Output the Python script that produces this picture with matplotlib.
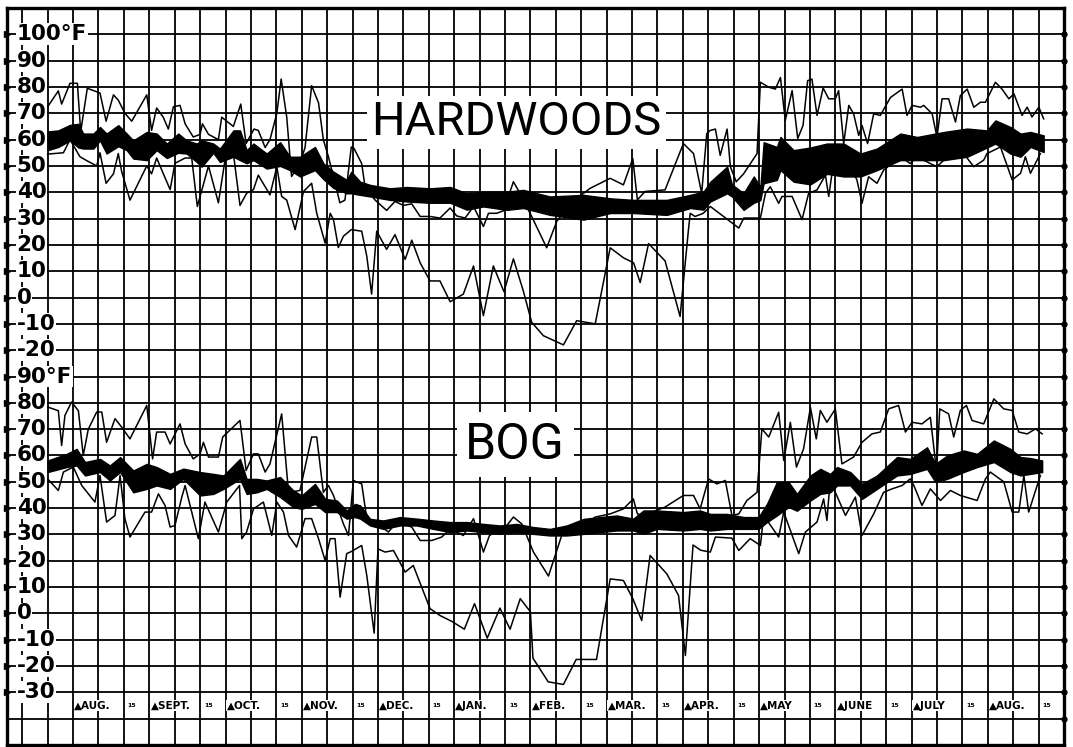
import numpy as np
import matplotlib.pyplot as plt

# time in grid columns (3 columns a month, Aug. to Aug.), values in deg F
# (time, temperature) readings for the thin max / min lines
hw_max = [(0, 72.5), (0.42, 78.5), (0.55, 73.5), (0.88, 81.4), (1.17, 81.4), (1.3, 63), (1.56, 79.5),
          (2.06, 77.7), (2.3, 67), (2.59, 77), (2.78, 75), (3.04, 70), (3.31, 67), (3.9, 77), (4.09, 63.5),
          (4.29, 72), (4.55, 68.5), (4.75, 64), (4.95, 72.5), (5.21, 73), (5.41, 66), (5.73, 61), (6.0, 62),
          (6.09, 66), (6.33, 62), (6.72, 60), (6.85, 68.5), (7.31, 65), (7.6, 73.5), (7.81, 58.5), (8.12, 64),
          (8.29, 63.5), (8.56, 57), (8.75, 60), (9.02, 70), (9.19, 83), (9.41, 68.5), (9.6, 46), (9.93, 51),
          (10.13, 57), (10.39, 80.5), (10.66, 74), (10.85, 60), (11.05, 53.5), (11.3, 44), (11.5, 36),
          (11.7, 37), (11.95, 57.2), (12.06, 56.6), (12.36, 50.9), (12.49, 42.1), (12.88, 37.1), (13.34, 33.1),
          (13.67, 36.5), (14.0, 35), (14.33, 35.6), (14.66, 30.8), (15.05, 30.8), (15.44, 30.2), (15.84, 34),
          (16.1, 31), (16.43, 30.2), (16.76, 34.6), (17.15, 27), (17.35, 32), (17.67, 32), (17.95, 33),
          (18.33, 44), (18.59, 39.6), (19.05, 30.8), (19.64, 18.9), (20.04, 29), (20.6, 36), (21.35, 41.5),
          (22.14, 45.3), (22.66, 42.8), (23.03, 52.8), (23.21, 37.1), (23.51, 40.3), (24.3, 40.9),
          (25.02, 58.5), (25.42, 54.7), (25.74, 39.6), (25.94, 62.3), (26.08, 63.5), (26.28, 64), (26.47, 54),
          (26.74, 64), (26.87, 49.7), (27.1, 44), (27.39, 47), (27.92, 54.7), (28.05, 81.8), (28.38, 79.9),
          (28.64, 79.2), (28.84, 83.6), (29.03, 67.3), (29.3, 78.6), (29.52, 60.4), (29.73, 65.4),
          (29.91, 82.4), (30.08, 83), (30.28, 69.2), (30.52, 79.6), (30.74, 75.5), (31.0, 75.5), (31.13, 78.6),
          (31.33, 58.5), (31.53, 73), (31.72, 69.8), (31.92, 61.6), (32.05, 65.4), (32.27, 58.5),
          (32.51, 69.8), (32.77, 69.2), (33.17, 76), (33.63, 79.2), (33.82, 69.2), (34.02, 73), (34.35, 72.3),
          (34.48, 73), (34.81, 69.8), (35.0, 61), (35.2, 75.5), (35.46, 75.5), (35.73, 66.7), (35.92, 76.7),
          (36.19, 79.2), (36.45, 72.3), (36.71, 74.2), (36.91, 74.2), (37.3, 81.8), (37.56, 79.2),
          (37.83, 75.5), (38.03, 77.4), (38.35, 69.2), (38.55, 72.3), (38.74, 68.6), (39.01, 72.3), (39.2, 67.9)]

hw_min = [(0, 54.5), (0.62, 55), (0.88, 60), (1.27, 53.5), (1.54, 52), (1.93, 50), (2.06, 55), (2.3, 43.4),
          (2.59, 47), (2.78, 54.7), (2.91, 48), (3.24, 37), (3.9, 50), (4.09, 47), (4.29, 53), (4.82, 41),
          (5.01, 51), (5.41, 53), (5.67, 53), (5.89, 34.6), (6.33, 50), (6.72, 36), (7.05, 56.6), (7.31, 54.7),
          (7.57, 35), (7.83, 39.6), (8.1, 41), (8.29, 46.5), (8.75, 39), (9.02, 49.7), (9.21, 38.4), (9.41, 37),
          (9.74, 25.8), (10.07, 40.3), (10.39, 43.4), (10.59, 32), (10.92, 20.7), (11.12, 32), (11.25, 29.6),
          (11.44, 19), (11.64, 23.3), (11.95, 25.8), (12.36, 25.2), (12.56, 15.7), (12.75, 1.3), (12.95, 25.2),
          (13.34, 18.3), (13.67, 23.9), (14.07, 14.5), (14.33, 21.8), (14.66, 13.2), (15.05, 6.3),
          (15.44, 6.3), (15.84, -1.6), (16.36, 1.3), (16.76, 12), (17.15, -6.9), (17.54, 12), (17.96, 2.2),
          (18.33, 14.7), (18.72, 2.5), (19.05, -9.4), (19.51, -14.5), (20.3, -18), (20.82, -8.8),
          (21.55, -10), (22.14, 18.9), (22.66, 15.1), (23.06, 13.2), (23.32, 5.7), (23.65, 20.5), (24.3, 13.9),
          (24.89, -7.2), (25.22, 25.8), (25.29, 32), (25.48, 30.8), (25.8, 32), (26.08, 34.6), (26.6, 30.8),
          (27.2, 26.4), (27.4, 30.2), (28.05, 30.2), (28.25, 39.6), (28.44, 42.1), (28.77, 35.8), (28.9, 38.4),
          (29.3, 38.4), (29.69, 29.6), (29.95, 39.6), (30.28, 40.9), (30.61, 46.5), (30.74, 38.4),
          (30.87, 47.2), (31.46, 46.5), (31.59, 49.7), (31.85, 44.7), (32.05, 35.8), (32.31, 45.9),
          (32.64, 43.4), (32.9, 48.4), (33.23, 50.9), (33.56, 53.5), (33.95, 50.9), (34.22, 53.5),
          (34.74, 50.9), (35.0, 49.7), (35.27, 52.2), (35.8, 53.5), (36.05, 54.7), (36.45, 49.7),
          (36.84, 52.2), (36.97, 54.7), (37.5, 57.2), (37.96, 44.7), (38.29, 47.2), (38.48, 53.5),
          (38.68, 47.2), (39.07, 54.7)]

# (time, low edge, high edge) of the thick black band
hw_band = [(0.0, 56.0, 63.1), (0.42, 57.2, 63.5), (0.88, 59.7, 65.6), (1.21, 57, 66), (1.4, 56.6, 62.3),
           (1.8, 56.6, 62.3), (2.06, 59.7, 64.8), (2.32, 54.7, 62.3), (2.78, 57.5, 65.5), (3.11, 56, 62.3),
           (3.37, 52.8, 59.7), (3.9, 52.2, 62.9), (4.29, 56, 62.3), (4.69, 53, 58.5), (5.14, 55, 62.3),
           (5.47, 54.7, 59.7), (5.87, 51.5, 58.5), (6.06, 49.7, 59.7), (6.52, 55, 58.5), (6.78, 51.5, 56.6),
           (7.31, 53.5, 63.5), (7.57, 52.2, 63.5), (7.83, 51, 56), (8.1, 52.2, 58.5), (8.62, 49, 54.7),
           (9.15, 50, 59), (9.54, 48.4, 53.5), (9.93, 46, 53.5), (10.52, 48.4, 57.2), (10.85, 45, 51),
           (11.25, 41.6, 47.8), (11.77, 39.6, 44.7), (11.95, 39.6, 47.8), (12.3, 39, 44), (12.69, 38.4, 42.8),
           (13.47, 37.1, 41.5), (14.13, 36.5, 42), (15.05, 36, 41.5), (15.84, 36, 42), (16.49, 33.4, 39.6),
           (17.15, 34.6, 40.2), (18.07, 33.3, 40.2), (18.72, 34, 40.9), (19.77, 31.4, 38.4), (21.09, 29.6, 39),
           (22.14, 32.1, 37.7), (23.05, 32.1, 37.1), (24.37, 31.4, 37.1), (25.29, 34, 39), (25.81, 33.4, 40.2),
           (26.08, 36.5, 44), (26.74, 39.6, 49.7), (26.93, 38.4, 43), (27.39, 33.3, 39.6), (27.79, 36, 46),
           (28.05, 37, 42), (28.18, 43.4, 59), (28.7, 44.7, 57.2), (28.84, 48.4, 61), (29.36, 44, 56),
           (30.02, 43, 57), (30.67, 47, 58.5), (31.33, 46, 58.5), (31.99, 46, 54.7), (32.64, 48.4, 56.6),
           (33.56, 52.2, 62.3), (34.22, 52.2, 61), (35.27, 52.2, 62.9), (36.19, 53.5, 64.2), (36.97, 57, 63.5),
           (37.3, 58.5, 67.3), (37.89, 54.7, 64.8), (38.29, 53.5, 62.3), (38.68, 57.2, 62.9), (39.2, 55.3, 61.6)]

bog_max = [(0, 78.4), (0.42, 77), (0.55, 63.8), (0.68, 75.2), (0.94, 80.3), (1.21, 77), (1.4, 60), (1.6, 70),
           (1.93, 76.5), (2.13, 76.5), (2.32, 65), (2.65, 74), (2.91, 70.8), (3.24, 66.3), (3.9, 79),
           (4.13, 58.7), (4.29, 68.9), (4.62, 68.9), (4.82, 64.4), (5.21, 72), (5.41, 64.4), (5.73, 58.7),
           (6.0, 60.6), (6.13, 65), (6.33, 59.4), (6.72, 59.4), (6.89, 67), (7.57, 73.3), (7.81, 54.3),
           (8.1, 60.6), (8.29, 60.6), (8.56, 53.7), (8.75, 56.8), (9.21, 75.8), (9.48, 46), (9.93, 46.7),
           (10.39, 67), (10.59, 67), (10.85, 46), (11.05, 48.6), (11.25, 44.8), (11.64, 34), (11.84, 29.6),
           (12.03, 50.5), (12.36, 49.2), (12.56, 36), (13.08, 33.4), (13.41, 30.9), (13.74, 34.7), (14.33, 32.8),
           (14.66, 27.7), (15.12, 27.7), (15.51, 29), (15.84, 32.1), (16.36, 29.6), (16.76, 36), (17.15, 23.3),
           (17.39, 29.6), (18.07, 33.4), (18.33, 36.6), (18.66, 34), (19.12, 23.3), (19.71, 14.2),
           (20.23, 29.6), (21.09, 33.4), (21.55, 36.6), (22.14, 37.8), (22.66, 39.7), (23.05, 43.5),
           (23.21, 37.8), (23.45, 37.2), (24.3, 40.4), (25.02, 44.8), (25.42, 44.8), (25.68, 39.7),
           (26.01, 51.1), (26.34, 49.2), (26.67, 50.5), (26.93, 37.2), (27.2, 37.8), (27.52, 42.9), (27.92, 46),
           (28.11, 70.1), (28.38, 67), (28.77, 76.4), (28.97, 58.1), (29.23, 72.6), (29.47, 55.6),
           (29.75, 62.5), (30.02, 78.3), (30.25, 66.3), (30.41, 77.1), (30.67, 72.6), (31.0, 77.7),
           (31.26, 56.8), (31.72, 59.4), (32.05, 65), (32.44, 68.2), (32.77, 68.9), (33.1, 77.7), (33.49, 79),
           (33.76, 68.9), (34.02, 72.6), (34.41, 72), (34.74, 74.5), (34.98, 54.3), (35.11, 77.7),
           (35.46, 75.8), (35.66, 67), (35.92, 77.1), (36.16, 79), (36.38, 73.3), (36.84, 72), (37.24, 81.5),
           (37.63, 77.7), (37.96, 77.1), (38.22, 68.9), (38.55, 68.2), (38.88, 70.1), (39.14, 68.2)]

bog_min = [(0, 51.1), (0.42, 46.7), (0.62, 53.7), (1.01, 55.6), (1.34, 48.6), (1.86, 42.3), (2.06, 52.4),
           (2.32, 34.7), (2.65, 37.2), (2.85, 52.4), (3.04, 36), (3.24, 29), (3.83, 38.5), (4.09, 38.5),
           (4.36, 45.4), (4.62, 41), (4.82, 32.8), (5.01, 33.4), (5.28, 44.2), (5.41, 48.6), (5.93, 28.4),
           (6.19, 42.3), (6.72, 30.9), (7.05, 42.3), (7.55, 48.6), (7.64, 28.4), (7.83, 30.9), (8.1, 39.7),
           (8.49, 42.3), (8.82, 29.6), (9.02, 42.3), (9.28, 38.5), (9.48, 29.6), (9.8, 25.2), (10.13, 36),
           (10.39, 36), (10.66, 28.4), (10.92, 20.1), (11.12, 28.4), (11.31, 28.4), (11.51, 6.2), (11.77, 22.7),
           (11.95, 23.5), (12.36, 25.8), (12.56, 14.4), (12.85, -7.5), (13.0, 24.5), (13.28, 23.3),
           (13.61, 23.9), (14.07, 15.7), (14.39, 18.2), (15.05, 1.8), (15.44, -0.8), (15.9, -3), (16.4, -6),
           (16.8, 3.7), (17.3, -9.4), (17.8, 2), (18.2, -6), (18.6, 5.6), (19.0, 0.6), (19.1, -17),
           (19.7, -26), (20.3, -27), (20.8, -17.5), (21.6, -17.5), (22.14, 13.1), (22.66, 12.5), (23.03, 5.6),
           (23.38, -2.7), (23.71, 22), (24.37, 15), (24.83, 6.8), (25.1, -16), (25.4, 26), (25.7, 24),
           (26.08, 23.3), (26.28, 29), (26.93, 28.6), (27.2, 23.9), (27.65, 28.4), (28.05, 25.8), (28.18, 37.2),
           (28.77, 29), (28.97, 38.5), (29.56, 22.7), (29.82, 30.9), (30.28, 34.7), (30.54, 43.5),
           (30.67, 35.3), (30.8, 51), (31.0, 46), (31.4, 37.2), (31.79, 44.2), (32.05, 29.6), (32.51, 37.8),
           (32.9, 46), (33.23, 47.3), (33.63, 48.6), (33.95, 51.1), (34.09, 48.6), (34.41, 41), (34.74, 47.3),
           (35.14, 42.9), (35.53, 46.7), (35.92, 44.8), (36.58, 42.9), (36.91, 51.1), (37.1, 53.7),
           (37.63, 50), (37.96, 38.5), (38.22, 38.5), (38.42, 52.4), (38.61, 38.5), (39.07, 52.4)]

bog_band = [(0.0, 53.7, 58.1), (0.75, 55.6, 60.6), (1.14, 56.2, 62.5), (1.47, 52.4, 57.5), (2.06, 53.7, 58.7),
            (2.45, 50.5, 56.2), (2.85, 53.7, 59.4), (3.37, 46, 54.3), (3.9, 47.3, 56.8), (4.29, 48.6, 55.6),
            (4.82, 47.3, 53), (5.34, 51.1, 55), (6.0, 44.8, 53.7), (6.52, 45.4, 53), (6.92, 47.3, 52.4),
            (7.57, 51.1, 58.7), (7.83, 45.4, 51.1), (8.23, 46, 51.1), (8.62, 47.3, 50.5), (9.15, 44.2, 51.8),
            (9.67, 40.4, 46.7), (10.0, 39.7, 44.8), (10.52, 41.6, 49.2), (10.92, 38.5, 43.5),
            (11.38, 38.5, 42.9), (11.77, 36, 39.1), (12.1, 36.6, 41.6), (12.3, 36, 41), (12.69, 33.4, 35.9),
            (13.21, 32.1, 35.3), (13.87, 33.4, 36.6), (14.52, 33.4, 36), (15.18, 32.1, 35.3),
            (15.84, 30.9, 34.7), (16.49, 31.5, 34.7), (17.15, 30.9, 34), (17.81, 30.2, 33.4), (18.46, 30.9, 34),
            (19.12, 30.2, 32.8), (19.77, 29.6, 32.1), (20.43, 29.6, 33.4), (21.09, 30.2, 35.9),
            (21.74, 30.9, 36.6), (22.4, 31.5, 37.2), (23.05, 31.5, 36), (23.45, 30.2, 39.1), (23.97, 32.1, 39.1),
            (25.02, 31.5, 38.5), (25.68, 32.1, 39.1), (26.08, 31.5, 37.8), (26.74, 32.1, 37.8),
            (27.39, 32.1, 36.6), (27.98, 32.1, 36.6), (28.31, 34.7, 41.6), (28.7, 37.2, 49.9),
            (29.16, 40.4, 49.9), (29.49, 39, 45.4), (30.02, 42.9, 52.4), (30.41, 45.4, 54.9), (30.8, 46, 53),
            (31.07, 48.6, 55.6), (31.59, 48.6, 53.7), (32.05, 43.5, 49.2), (32.64, 47.3, 52.4),
            (33.43, 52.4, 59.4), (33.95, 53, 58.7), (34.61, 54.9, 63.1), (34.94, 49.9, 56.8), (35.4, 51.1, 60),
            (36.05, 53.7, 61.9), (36.58, 55.6, 60.6), (37.24, 57.5, 65.7), (37.89, 53.7, 62.5),
            (38.29, 52.4, 59.4), (38.68, 53, 59), (39.14, 53.7, 58.1)]

top_ticks = [100, 90, 80, 70, 60, 50, 40, 30, 20, 10, 0, -10, -20]
bog_ticks = [90, 80, 70, 60, 50, 40, 30, 20, 10, 0, -10, -20, -30]
months = ['AUG.', 'SEPT.', 'OCT.', 'NOV.', 'DEC.', 'JAN.', 'FEB.', 'MAR.', 'APR.', 'MAY', 'JUNE', 'JULY', 'AUG.']
bog_offset = 120   # the bog panel sits 12 rows lower on the same sheet

plt.rcParams['font.family'] = ['DejaVu Sans']

fig = plt.figure(figsize=(10.73, 7.47), dpi=100)
ax = fig.add_axes([7 / 1073, 2 / 747, 1057 / 1073, 737 / 747])
ax.set_xlim(-1.6, 40)
ax.set_ylim(-170, 110)
ax.set_xticks([])
ax.set_yticks([])
for s in ax.spines.values():
    s.set_linewidth(2.4)

# the ruled sheet
for c in range(-1, 40):
    ax.axvline(c, color='k', lw=1.3, zorder=1)
for r in range(-160, 110, 10):
    ax.axhline(r, color='k', lw=1.3, zorder=1)


def draw_panel(mx, mn, band, shift):
    t, v = zip(*mx)
    ax.plot(t, np.array(v) - shift, color='k', lw=1.1, zorder=3)
    t, v = zip(*mn)
    ax.plot(t, np.array(v) - shift, color='k', lw=1.1, zorder=3)
    t, lo, hi = zip(*band)
    ax.fill_between(t, np.array(lo) - shift, np.array(hi) - shift, color='k', lw=1.0, zorder=3)


draw_panel(hw_max, hw_min, hw_band, 0)
draw_panel(bog_max, bog_min, bog_band, bog_offset)

# y labels, on white so the rulings stop at them
lab_kw = dict(ha='left', va='center', fontsize=15.5, fontweight='bold', zorder=5,
              bbox=dict(fc='white', ec='none', pad=0.6))
for v in top_ticks:
    ax.text(-1.22, v, '100°F' if v == 100 else str(v), **lab_kw)
for v in bog_ticks:
    ax.text(-1.22, v - bog_offset, '90°F' if v == 90 else str(v), **lab_kw)
rows = top_ticks + [v - bog_offset for v in bog_ticks]
ax.plot([-1.6] * len(rows), rows, ls='none', marker='>', ms=5, color='k', clip_on=False, zorder=6)
ax.plot([40] * 27, list(range(-160, 110, 10)), ls='none', marker='o', ms=3.5, color='k',
        clip_on=False, zorder=6)

# month row
for k, m in enumerate(months):
    ax.text(3 * k + 1.05, -155, '▲' + m, ha='left', va='center', fontsize=7.5, fontweight='bold',
            zorder=5, bbox=dict(fc='white', ec='none', pad=0.3))
    ax.text(3 * k + 3.15, -155, '15', ha='left', va='center', fontsize=4.5, fontweight='bold', zorder=5)

# panel names
ax.text(18.45, 61.6, 'HARDWOODS', family='Roboto', fontsize=34, ha='center', va='baseline', zorder=5,
        bbox=dict(fc='white', ec='none', pad=3))
ax.text(18.4, 58.7 - bog_offset, 'BOG', family='Roboto', fontsize=36, ha='center', va='baseline', zorder=5,
        bbox=dict(fc='white', ec='none', pad=6))

fig.savefig('out.png', dpi=100)
